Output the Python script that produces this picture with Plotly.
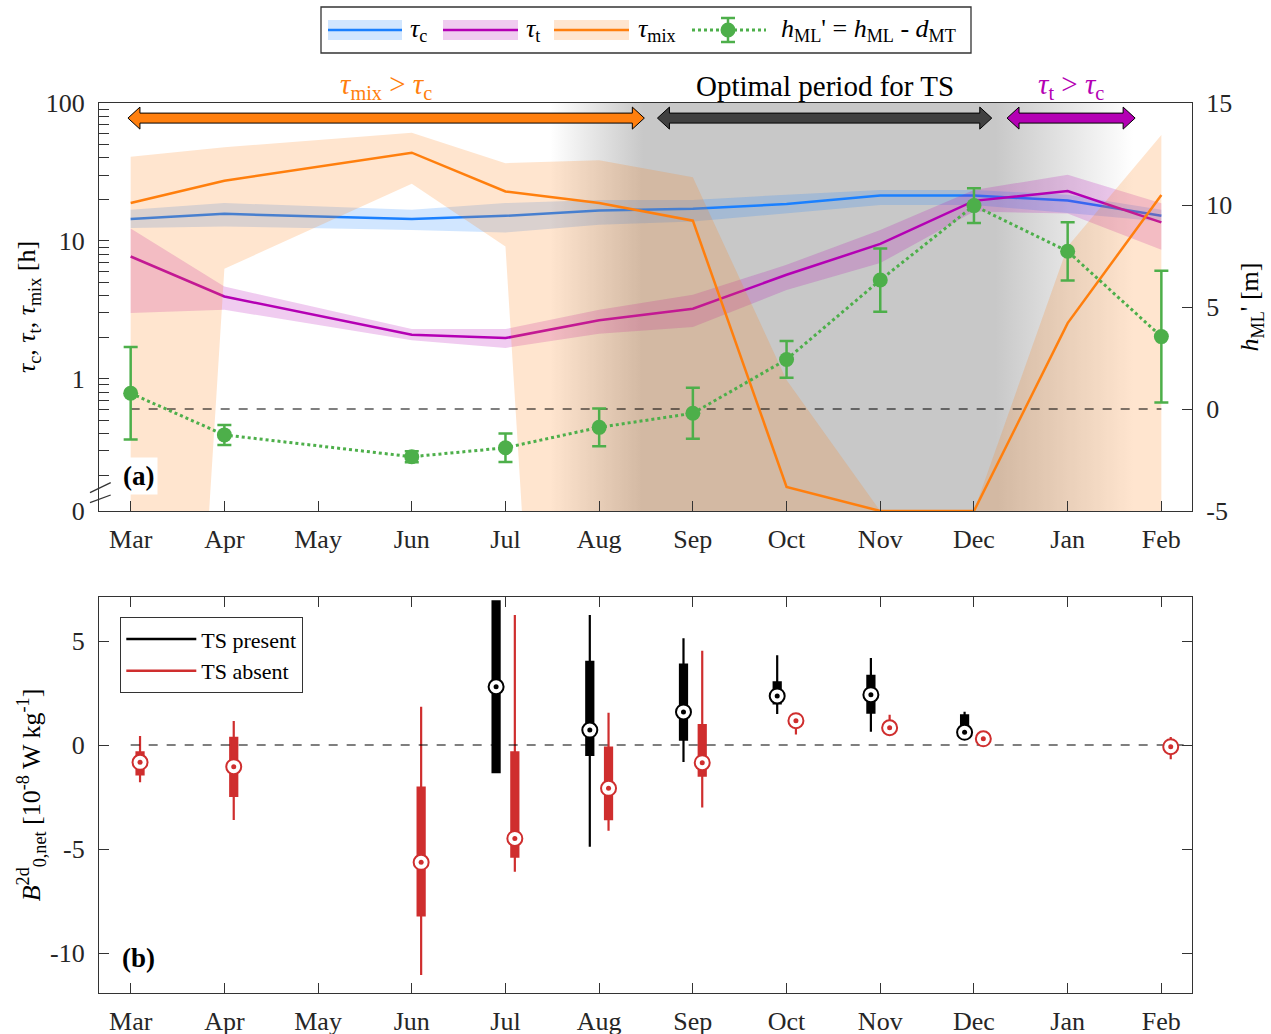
import plotly.graph_objects as go

W, H = 1271, 1034

# ---------------- data ----------------
MONTHS = ["Mar", "Apr", "May", "Jun", "Jul", "Aug", "Sep", "Oct", "Nov", "Dec", "Jan", "Feb"]

# panel (a): months with data (no May)
A_MONTHS = ["Mar", "Apr", "Jun", "Jul", "Aug", "Sep", "Oct", "Nov", "Dec", "Jan", "Feb"]
TAU_C = [14.4, 15.7, 14.4, 15.2, 16.6, 17.1, 18.5, 21.3, 21.3, 19.6, 15.2]
TAU_C_HI = [16.8, 18.8, 16.8, 18.8, 19.8, 19.8, 21.6, 23.4, 23.4, 21.6, 16.8]
TAU_C_LO = [12.4, 12.7, 12.0, 11.5, 13.1, 13.8, 15.9, 18.2, 18.2, 15.9, 13.8]
TAU_T = [7.7, 3.95, 2.08, 1.97, 2.65, 3.22, 5.67, 9.5, 19.5, 23.0, 13.6]
TAU_T_HI = [12.3, 4.66, 2.29, 2.29, 3.16, 4.06, 6.7, 12.0, 23.4, 30.1, 18.7]
TAU_T_LO = [2.99, 3.16, 1.9, 1.67, 2.12, 2.37, 4.4, 6.9, 16.3, 15.8, 8.6]
TAU_MIX = [18.8, 27.3, 43.6, 22.8, 18.8, 14.0, 0.164, 0, 0, 2.53, 21.5]
TAU_MIX_HI = [40.8, 47.8, 60.9, 36.6, 38.5, 28.9, 0.98, 0, 0, 9.1, 58.6]
TAU_MIX_LO = [None, 6.27, 25.9, 9.1, None, None, None, None, None, None, None]  # None: below axis
H_ML = [0.77, -1.27, -2.34, -1.9, -0.9, -0.21, 2.43, 6.32, 9.97, 7.73, 3.55]
H_ML_ERR = [2.27, 0.49, 0.27, 0.7, 0.92, 1.25, 0.9, 1.55, 0.85, 1.43, 3.23]

# period arrows (month positions)
PERIODS = [
    ("<i>τ</i><sub>mix</sub> > <i>τ</i><sub>c</sub>", -0.029, 5.482, "rgb(255,127,14)", "rgb(255,127,14)"),
    ("Optimal period for TS", 5.622, 9.19, "rgb(64,64,64)", "black"),
    ("<i>τ</i><sub>t</sub> > <i>τ</i><sub>c</sub>", 9.353, 10.72, "rgb(180,0,180)", "rgb(180,0,180)"),
]
TS_SHADE = (4.48, 5.47, 9.23, 10.7)  # fade-in start, full, full end, fade-out end

# panel (b): box statistics
P_MONTHS = ["Jul", "Aug", "Sep", "Oct", "Nov", "Dec"]
P_MED = [2.8, 0.72, 1.59, 2.36, 2.42, 0.61]
P_Q1 = [-1.30, -0.48, 0.26, 2.0, 1.55, 0.5]
P_Q3 = [6.9, 4.0, 3.86, 3.01, 3.32, 1.43]
P_LO = [-1.30, -4.89, -0.82, 1.49, 0.64, 0.4]
P_HI = [6.9, 6.25, 5.13, 4.31, 4.18, 1.6]

R_MONTHS = ["Mar", "Apr", "Jun", "Jul", "Aug", "Sep", "Oct", "Nov", "Dec", "Feb"]
R_MED = [-0.83, -1.04, -5.64, -4.49, -2.08, -0.85, 1.17, 0.83, 0.30, -0.08]
R_Q1 = [-1.41, -2.44, -8.19, -5.37, -3.56, -1.47, 1.0, 0.7, 0.2, -0.3]
R_Q3 = [-0.35, 0.35, -2.05, -0.35, -0.13, 0.96, 1.3, 1.0, 0.4, 0.1]
R_LO = [-1.79, -3.6, -11.06, -6.09, -4.12, -3.0, 0.51, 0.48, 0.15, -0.69]
R_HI = [0.43, 1.15, 1.84, 6.25, 1.55, 4.53, 1.46, 1.46, 0.45, 0.38]

# tick labels
Y1_TICKS = ["0", "1", "10", "100"]
Y2_TICKS = ["-5", "0", "5", "10", "15"]
Y3_TICKS = ["-10", "-5", "0", "5"]

# ---------------- styles ----------------
FONT = "Liberation Serif"
AX = "#333333"
C_BLUE = "rgb(26,128,255)"
C_PURP = "rgb(180,0,180)"
C_ORNG = "rgb(255,127,14)"
C_GRN = "rgb(77,175,74)"
C_RED = "rgb(207,46,46)"
AXIS_ZERO = 10 ** -0.96   # position of the "0" label on the broken log axis
BELOW = 1e-10            # far below the axis (unbounded lower edge)


def mi(m):
    return MONTHS.index(m)


def logval(v, none_val):
    if v is None:
        return none_val
    return AXIS_ZERO if v == 0 else v


xa = [mi(m) for m in A_MONTHS]

fig = go.Figure()

# grey "optimal period" shading with horizontal gradient
s0, s1, s2, s3 = TS_SHADE
span = s3 - s0
fig.add_trace(go.Scatter(
    x=[s0, s3, s3, s0, s0], y=[1e-3, 1e-3, 1e3, 1e3, 1e-3], mode="lines", line=dict(width=0),
    fill="toself", fillgradient=dict(
        type="horizontal", start=s0, stop=s3,
        colorscale=[[0, "rgba(200,200,200,0)"], [(s1 - s0) / span, "rgb(200,200,200)"],
                    [(s2 - s0) / span, "rgb(200,200,200)"], [1, "rgba(200,200,200,0)"]]),
    hoverinfo="skip", showlegend=False, xaxis="x", yaxis="y"))


def band_and_line(mid, hi, lo, color, rgba):
    yb_hi = [logval(v, AXIS_ZERO) for v in hi]
    yb_lo = [logval(v, BELOW) for v in lo]
    fig.add_trace(go.Scatter(
        x=xa + xa[::-1], y=yb_hi + yb_lo[::-1], fill="toself", fillcolor=rgba,
        mode="lines", line=dict(width=0), hoverinfo="skip", showlegend=False, xaxis="x", yaxis="y"))
    fig.add_trace(go.Scatter(
        x=xa, y=[logval(v, AXIS_ZERO) for v in mid], mode="lines",
        line=dict(color=color, width=2.5), showlegend=False, xaxis="x", yaxis="y"))


band_and_line(TAU_C, TAU_C_HI, TAU_C_LO, C_BLUE, "rgba(26,128,255,0.2)")
band_and_line(TAU_T, TAU_T_HI, TAU_T_LO, C_PURP, "rgba(180,0,180,0.2)")
band_and_line(TAU_MIX, TAU_MIX_HI, TAU_MIX_LO, C_ORNG, "rgba(255,127,14,0.2)")

# zero line of h_ML'
fig.add_trace(go.Scatter(x=[xa[0], xa[-1]], y=[0, 0], mode="lines",
                         line=dict(color="black", width=1.2, dash="dash"),
                         showlegend=False, xaxis="x", yaxis="y2"))
fig.add_trace(go.Scatter(
    x=xa, y=H_ML, mode="lines+markers", line=dict(color=C_GRN, width=3, dash="dot"),
    marker=dict(color=C_GRN, size=15),
    error_y=dict(type="data", array=H_ML_ERR, visible=True, color=C_GRN, thickness=2.5, width=7),
    showlegend=False, xaxis="x", yaxis="y2"))

# ---------------- panel (b) ----------------
OFF = 0.1
XR = [-0.338, 11.327]
fig.add_trace(go.Scatter(x=[0, XR[1]], y=[0, 0], mode="lines",
                         line=dict(color="black", width=1.2, dash="dash"),
                         showlegend=False, xaxis="x2", yaxis="y3"))


def boxes(months, q1, med, q3, lo, hi, color, off, name):
    xs = [mi(m) + off for m in months]
    fig.add_trace(go.Box(
        x=xs, q1=q1, median=med, q3=q3, lowerfence=lo, upperfence=hi,
        width=0.075, whiskerwidth=0, line=dict(color=color, width=2.2), fillcolor=color,
        boxpoints=False, showlegend=False, xaxis="x2", yaxis="y3", name=name))
    fig.add_trace(go.Scatter(
        x=xs, y=med, mode="markers", cliponaxis=False,
        marker=dict(symbol="circle", size=15, color="white", line=dict(color=color, width=2)),
        showlegend=False, xaxis="x2", yaxis="y3"))
    fig.add_trace(go.Scatter(
        x=xs, y=med, mode="markers", cliponaxis=False,
        marker=dict(symbol="circle", size=5, color=color),
        showlegend=False, xaxis="x2", yaxis="y3"))


boxes(P_MONTHS, P_Q1, P_MED, P_Q3, P_LO, P_HI, "black", -OFF, "TS present")
boxes(R_MONTHS, R_Q1, R_MED, R_Q3, R_LO, R_HI, C_RED, OFF, "TS absent")

for nm, col in [("TS present", "black"), ("TS absent", C_RED)]:
    fig.add_trace(go.Scatter(x=[None], y=[None], mode="lines", line=dict(color=col, width=2.5),
                             name=nm, legend="legend2", xaxis="x2", yaxis="y3"))

# ---------------- shapes & annotations ----------------
def X(px):
    return px / W


def Y(py):
    return 1 - py / H


shapes = []
annotations = []

YC, HS, HH, L = 14.26, 0.245, 0.54, 0.128
for label, a, b, fillc, txtc in PERIODS:
    pts = [(a, YC), (a + L, YC + HH), (a + L, YC + HS), (b - L, YC + HS), (b - L, YC + HH), (b, YC),
           (b - L, YC - HH), (b - L, YC - HS), (a + L, YC - HS), (a + L, YC - HH)]
    path = "M " + " L ".join(f"{x},{y}" for x, y in pts) + " Z"
    shapes.append(dict(type="path", path=path, xref="x", yref="y2", fillcolor=fillc,
                       line=dict(color="black", width=1), layer="above"))
    annotations.append(dict(text=label, x=(a + b) / 2, xref="x", y=Y(86), yref="paper",
                            showarrow=False, xanchor="center", yanchor="middle",
                            font=dict(size=29, color=txtc)))

# top legend (drawn)
shapes.append(dict(type="rect", xref="paper", yref="paper", x0=X(321), x1=X(971), y0=Y(53), y1=Y(7),
                   line=dict(color=AX, width=1.3), fillcolor="white", layer="above"))
leg_items = [
    (328, 402, 408, "rgb(209,230,255)", C_BLUE, "<i>τ</i><sub>c</sub>"),
    (443, 518, 524, "rgb(240,204,240)", C_PURP, "<i>τ</i><sub>t</sub>"),
    (554, 629, 636, "rgb(255,229,207)", C_ORNG, "<i>τ</i><sub>mix</sub>"),
]
for x0, x1, xt, fc, lc, txt in leg_items:
    shapes.append(dict(type="rect", xref="paper", yref="paper", x0=X(x0), x1=X(x1), y0=Y(40), y1=Y(20),
                       line=dict(width=0), fillcolor=fc, layer="above"))
    shapes.append(dict(type="line", xref="paper", yref="paper", x0=X(x0), x1=X(x1), y0=Y(30), y1=Y(30),
                       line=dict(color=lc, width=2.5), layer="above"))
    annotations.append(dict(text=txt, x=X(xt), y=Y(30), xref="paper", yref="paper", showarrow=False,
                            xanchor="left", yanchor="middle", font=dict(size=26, color="black")))
shapes.append(dict(type="line", xref="paper", yref="paper", x0=X(692), x1=X(766), y0=Y(30), y1=Y(30),
                   line=dict(color=C_GRN, width=3, dash="dot"), layer="above"))
shapes.append(dict(type="line", xref="paper", yref="paper", x0=X(728), x1=X(728), y0=Y(18), y1=Y(42),
                   line=dict(color=C_GRN, width=2.5), layer="above"))
for yy in (18, 42):
    shapes.append(dict(type="line", xref="paper", yref="paper", x0=X(721), x1=X(735), y0=Y(yy), y1=Y(yy),
                       line=dict(color=C_GRN, width=2.5), layer="above"))
shapes.append(dict(type="circle", xref="paper", yref="paper", x0=X(720.5), x1=X(735.5), y0=Y(37.5), y1=Y(22.5),
                   line=dict(width=0), fillcolor=C_GRN, layer="above"))
annotations.append(dict(text="<i>h</i><sub>ML</sub>' = <i>h</i><sub>ML</sub> - <i>d</i><sub>MT</sub>",
                        x=X(779), y=Y(30), xref="paper", yref="paper", showarrow=False,
                        xanchor="left", yanchor="middle", font=dict(size=26, color="black")))

# axis-break marks
for (xa0, ya0, xa1, ya1) in [(90, 492.7, 110.7, 482.7), (90, 502.7, 110.7, 495)]:
    shapes.append(dict(type="line", xref="paper", yref="paper", x0=X(xa0), y0=Y(ya0), x1=X(xa1), y1=Y(ya1),
                       line=dict(color=AX, width=1.3), layer="above"))

annotations.append(dict(text="<b>(a)</b>", x=X(138), y=Y(476), xref="paper", yref="paper", showarrow=False,
                        xanchor="center", yanchor="middle", bgcolor="white", borderpad=3,
                        font=dict(size=27, color="black")))
annotations.append(dict(text="<b>(b)</b>", x=X(138), y=Y(958), xref="paper", yref="paper", showarrow=False,
                        xanchor="center", yanchor="middle", font=dict(size=27, color="black")))

tickfont = dict(size=26, color="#262626", family=FONT)
common = dict(showgrid=False, zeroline=False, showline=True, linecolor=AX, linewidth=1.3,
              ticks="inside", ticklen=10, tickwidth=1.3, tickcolor=AX, tickfont=tickfont,
              ticklabelstandoff=8, automargin=False)
xcommon = dict(common, ticklabelstandoff=5)

fig.update_layout(
    width=W, height=H, margin=dict(l=0, r=0, t=0, b=0, autoexpand=False),
    paper_bgcolor="white", plot_bgcolor="white",
    font=dict(family=FONT, size=24, color="black"),
    showlegend=True,
    xaxis=dict(domain=[X(99), X(1192)], range=XR, anchor="y", tickmode="array",
               tickvals=list(range(12)), ticktext=MONTHS, mirror=True, **xcommon),
    yaxis=dict(domain=[Y(511), Y(103)], type="log", range=[-0.96, 2], anchor="x",
               tickmode="array", tickvals=[AXIS_ZERO, 1, 10, 100], ticktext=Y1_TICKS,
               minor=dict(tickvals=[0.2, 0.3, 0.4, 0.5, 0.6, 0.7, 0.8, 0.9, 2, 3, 4, 5, 6, 7, 8, 9,
                                    20, 30, 40, 50, 60, 70, 80, 90],
                          ticks="inside", ticklen=10, tickwidth=1.3, tickcolor=AX),
               title=dict(text="<i>τ</i><sub>c</sub>, <i>τ</i><sub>t</sub>, <i>τ</i><sub>mix</sub> [h]",
                          font=dict(size=26), standoff=2),
               **common),
    yaxis2=dict(overlaying="y", side="right", range=[-5, 15], anchor="x", tickmode="array",
                tickvals=[-5, 0, 5, 10, 15], ticktext=Y2_TICKS,
                title=dict(text="<i>h</i><sub>ML</sub>' [m]", font=dict(size=26), standoff=8),
                **common),
    xaxis2=dict(domain=[X(99), X(1192)], range=XR, anchor="y3", tickmode="array",
                tickvals=list(range(12)), ticktext=MONTHS, mirror="ticks", **xcommon),
    yaxis3=dict(domain=[Y(993), Y(597)], range=[-11.92, 7.115], anchor="x2", tickmode="array",
                tickvals=[-10, -5, 0, 5], ticktext=Y3_TICKS, mirror="ticks",
                title=dict(text="<i>B</i><sup>2d</sup><sub>0,net</sub> [10<sup>-8</sup> W kg<sup>-1</sup>]",
                           font=dict(size=26), standoff=1),
                **common),
    legend2=dict(x=X(120), y=Y(617), xanchor="left", yanchor="top", bgcolor="white",
                 bordercolor=AX, borderwidth=1.3, font=dict(size=22, color="black"),
                 itemwidth=70, tracegroupgap=0),
    shapes=shapes, annotations=annotations,
)

fig.write_html("out.html", config={"displayModeBar": False},
               post_script="document.body.style.margin='0px';")
